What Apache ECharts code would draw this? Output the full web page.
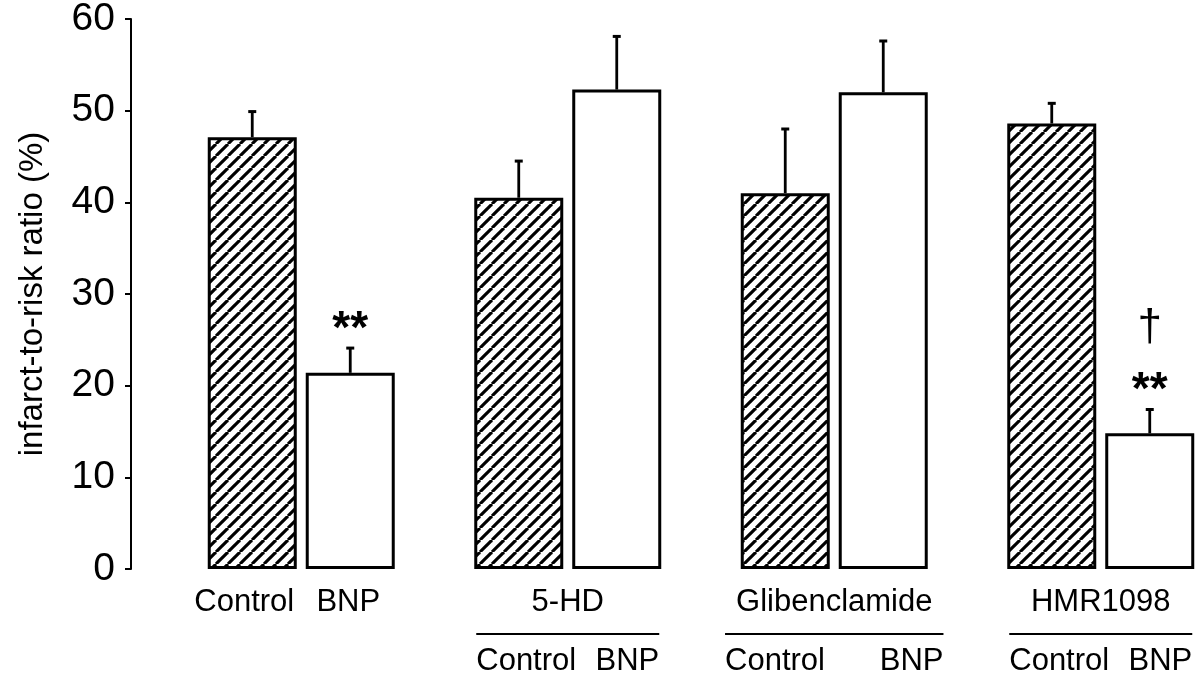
<!DOCTYPE html>
<html>
<head>
<meta charset="utf-8">
<script src="https://cdn.jsdelivr.net/npm/echarts@6/dist/echarts.min.js"></script>
<style>
  html, body { margin: 0; padding: 0; background: #fff; }
  #chart { width: 1202px; height: 684px; }
</style>
</head>
<body>
<div id="chart"></div>
<script>
// Infarct-to-risk ratio (%), mean and SEM per group
const groups = ['', '5-HD', 'Glibenclamide', 'HMR1098'];
const subLabels = ['Control', 'BNP'];
const controlMean = [47.1, 40.5, 41.0, 48.6];
const controlSem = [2.8, 4.0, 7.0, 2.2];
const bnpMean = [21.4, 52.3, 52.0, 14.8];
const bnpSem = [2.7, 5.8, 5.6, 2.6];
const bnpVsControl = ['**', '', '', '**'];
const bnpVsBnpAlone = ['', '', '', '†'];
const yTicks = [0, 10, 20, 30, 40, 50, 60];

const FONT = '"Liberation Sans", Arial, Helvetica, sans-serif';
const BAR_W = 89;
const BAR_GAP = 9;
const HALF = (BAR_W + BAR_GAP) / 2;

// diagonal hatching used for the Control bars
function hatch() {
  const s = 12;
  const c = document.createElement('canvas');
  c.width = s; c.height = s;
  const g = c.getContext('2d');
  g.fillStyle = '#fff';
  g.fillRect(0, 0, s, s);
  g.strokeStyle = '#000';
  g.lineWidth = 3.1;
  for (const k of [-s, 0, s]) {
    g.beginPath();
    g.moveTo(k, s);
    g.lineTo(k + s, 0);
    g.stroke();
  }
  return c;
}

const measureCtx = document.createElement('canvas').getContext('2d');
function textWidth(t, size) {
  measureCtx.font = size + 'px ' + FONT;
  return measureCtx.measureText(t).width;
}

// SEM whiskers plus significance marks above them
function errorBars(means, sems, offset, stars, daggers) {
  return function (params, api) {
    const i = params.dataIndex;
    const base = api.coord([i, means[i]]);
    const top = api.coord([i, means[i] + sems[i]]);
    const x = base[0] + offset;
    const children = [
      { type: 'line', shape: { x1: x, y1: base[1], x2: x, y2: top[1] },
        style: { stroke: '#000', lineWidth: 2.8 } },
      { type: 'line', shape: { x1: x - 4, y1: top[1], x2: x + 4, y2: top[1] },
        style: { stroke: '#000', lineWidth: 3 } }
    ];
    if (stars && stars[i]) {
      children.push({ type: 'text', style: {
        text: stars[i], x: x, y: top[1] + 5, align: 'center', verticalAlign: 'bottom',
        font: 'bold 46px ' + FONT, fill: '#000' } });
    }
    if (daggers && daggers[i]) {
      children.push({ type: 'text', style: {
        text: daggers[i], x: x, y: top[1] - 82, align: 'center', verticalAlign: 'middle',
        font: '44px ' + FONT, fill: '#000' } });
    }
    return { type: 'group', children: children };
  };
}

// group captions under the bars, with the underline and sub-labels
function groupLabels(params, api) {
  const i = params.dataIndex;
  const base = api.coord([i, 0]);
  const cx = base[0];
  const y0 = base[1];
  const size = 31;
  const font = size + 'px ' + FONT;
  const txt = (t, x, y, align) => ({ type: 'text', style: {
    text: t, x: x, y: y, align: align, verticalAlign: 'middle', font: font, fill: '#000' } });
  const children = [];
  if (!groups[i]) {
    children.push(txt(subLabels[0], cx - HALF - 8, y0 + 33, 'center'));
    children.push(txt(subLabels[1], cx + HALF - 2, y0 + 33, 'center'));
  } else {
    const hw = Math.max(HALF + BAR_W / 2 - 2, textWidth(groups[i], size) / 2 + 11);
    children.push(txt(groups[i], cx, y0 + 33, 'center'));
    children.push({ type: 'line', shape: { x1: cx - hw, y1: y0 + 65, x2: cx + hw, y2: y0 + 65 },
      style: { stroke: '#000', lineWidth: 2 } });
    children.push(txt(subLabels[0], cx - hw, y0 + 92, 'left'));
    children.push(txt(subLabels[1], cx + hw, y0 + 92, 'right'));
  }
  return { type: 'group', children: children };
}

const chart = echarts.init(document.getElementById('chart'), null, { renderer: 'canvas' });
chart.setOption({
  animation: false,
  backgroundColor: '#fff',
  grid: { left: 168, top: 19, width: 1066, height: 550, outerBoundsMode: 'none', containLabel: false },
  xAxis: {
    type: 'category',
    data: groups,
    boundaryGap: true,
    axisLine: { show: false },
    axisTick: { show: false },
    axisLabel: { show: false },
    splitLine: { show: false }
  },
  yAxis: {
    type: 'value',
    min: yTicks[0],
    max: yTicks[yTicks.length - 1],
    interval: 10,
    offset: 37,
    name: 'infarct-to-risk ratio (%)',
    nameLocation: 'middle',
    nameGap: 82,
    nameTextStyle: { fontFamily: FONT, fontSize: 33, color: '#000' },
    axisLine: { show: true, lineStyle: { color: '#000', width: 2 } },
    axisTick: { show: true, inside: false, length: 6, lineStyle: { color: '#000', width: 2 } },
    axisLabel: { margin: 16, fontFamily: FONT, fontSize: 39, color: '#000' },
    splitLine: { show: false }
  },
  series: [
    {
      type: 'bar', name: 'Control', data: controlMean,
      barWidth: BAR_W, barGap: (BAR_GAP / BAR_W * 100).toFixed(1) + '%',
      itemStyle: { color: { image: hatch(), repeat: 'repeat' }, borderColor: '#000', borderWidth: 3 }
    },
    {
      type: 'bar', name: 'BNP', data: bnpMean,
      barWidth: BAR_W,
      itemStyle: { color: '#fff', borderColor: '#000', borderWidth: 3 }
    },
    {
      type: 'custom', z: 5,
      data: controlMean.map((m, i) => [i, m + controlSem[i]]),
      renderItem: errorBars(controlMean, controlSem, -HALF)
    },
    {
      type: 'custom', z: 5,
      data: bnpMean.map((m, i) => [i, m + bnpSem[i]]),
      renderItem: errorBars(bnpMean, bnpSem, HALF, bnpVsControl, bnpVsBnpAlone)
    },
    {
      type: 'custom', z: 5, clip: false,
      data: groups.map((g, i) => [i, 0]),
      renderItem: groupLabels
    }
  ]
});
</script>
</body>
</html>
